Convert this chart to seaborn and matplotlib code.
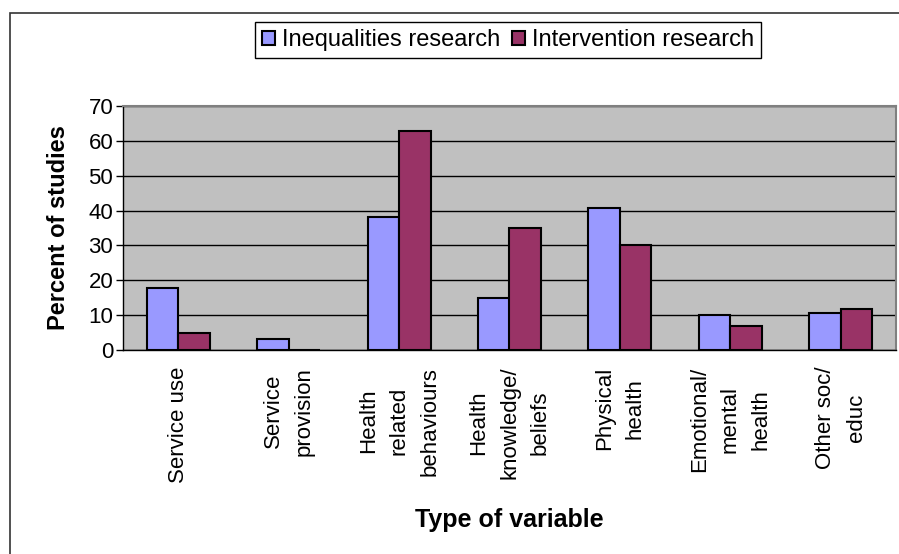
import pandas as pd
import seaborn as sns
import matplotlib.pyplot as plt
from matplotlib.patches import Rectangle

categories = ['Service use', 'Service\nprovision', 'Health\nrelated\nbehaviours',
              'Health\nknowledge/\nbeliefs', 'Physical\nhealth',
              'Emotional/\nmental\nhealth', 'Other soc/\neduc']
inequalities = [17.7, 3.2, 38.2, 14.9, 40.8, 10.0, 10.6]
intervention = [4.8, 0.0, 62.8, 35.0, 30.1, 6.9, 11.7]
series = ['Inequalities research', 'Intervention research']

df = pd.DataFrame({
    'cat': categories * 2,
    'value': inequalities + intervention,
    'series': [series[0]] * len(categories) + [series[1]] * len(categories),
})

sns.set_style('white')
plt.rcParams['font.family'] = ['Liberation Sans', 'DejaVu Sans']
plt.rcParams.update({'text.color': 'black', 'axes.labelcolor': 'black',
                     'xtick.color': 'black', 'ytick.color': 'black'})

W, H = 899, 554
fig = plt.figure(figsize=(W / 100, H / 100), dpi=100)
ax = fig.add_axes([123 / W, 1 - 350 / H, (896 - 123) / W, (350 - 106) / H])
ax.set_facecolor('#C0C0C0')

sns.barplot(data=df, x='cat', y='value', hue='series', order=categories,
            palette=['#9999FF', '#993366'], saturation=1, edgecolor='black',
            linewidth=1.5, width=0.57, gap=0, ax=ax, zorder=3)

ax.set_ylim(0, 70)
ax.set_xlim(-0.5, len(categories) - 0.5)
ax.set_yticks(range(0, 71, 10))
ax.yaxis.grid(True, color='black', linewidth=1)
ax.set_axisbelow(True)
for s in ['top', 'right']:
    ax.spines[s].set_color('#808080')
    ax.spines[s].set_linewidth(1.5)
for s in ['left', 'bottom']:
    ax.spines[s].set_color('black')
    ax.spines[s].set_linewidth(1)

ax.set_xticks([i - 0.5 for i in range(len(categories) + 1)], minor=True)
ax.tick_params(axis='x', which='minor', length=5, color='black', width=1)
ax.tick_params(axis='x', which='major', length=0, pad=12, labelsize=16)
ax.tick_params(axis='y', length=5, width=1, color='black', labelsize=16, pad=2, left=True)
for lab in ax.get_xticklabels():
    lab.set_rotation(90)
    lab.set_multialignment('center')
    lab.set_linespacing(1.6)

ax.set_xlabel('Type of variable', fontsize=18, fontweight='bold', labelpad=18)
ax.set_ylabel('Percent of studies', fontsize=17, fontweight='bold', labelpad=13)

ax.legend(loc='center', bbox_to_anchor=(508 / W, 1 - 40 / H), bbox_transform=fig.transFigure,
          ncol=2, fontsize=17, frameon=True, fancybox=False, edgecolor='black',
          handlelength=0.55, handleheight=0.55, handletextpad=0.3, columnspacing=0.5,
          borderpad=0.3, framealpha=1)
ax.get_legend().get_frame().set_linewidth(1)

fig.patches.append(Rectangle((10 / W, -0.1), 1.0, 1 - 13 / H + 0.1, transform=fig.transFigure,
                             fill=False, edgecolor='#333333', linewidth=1.2))

fig.savefig('out.png', dpi=100)
